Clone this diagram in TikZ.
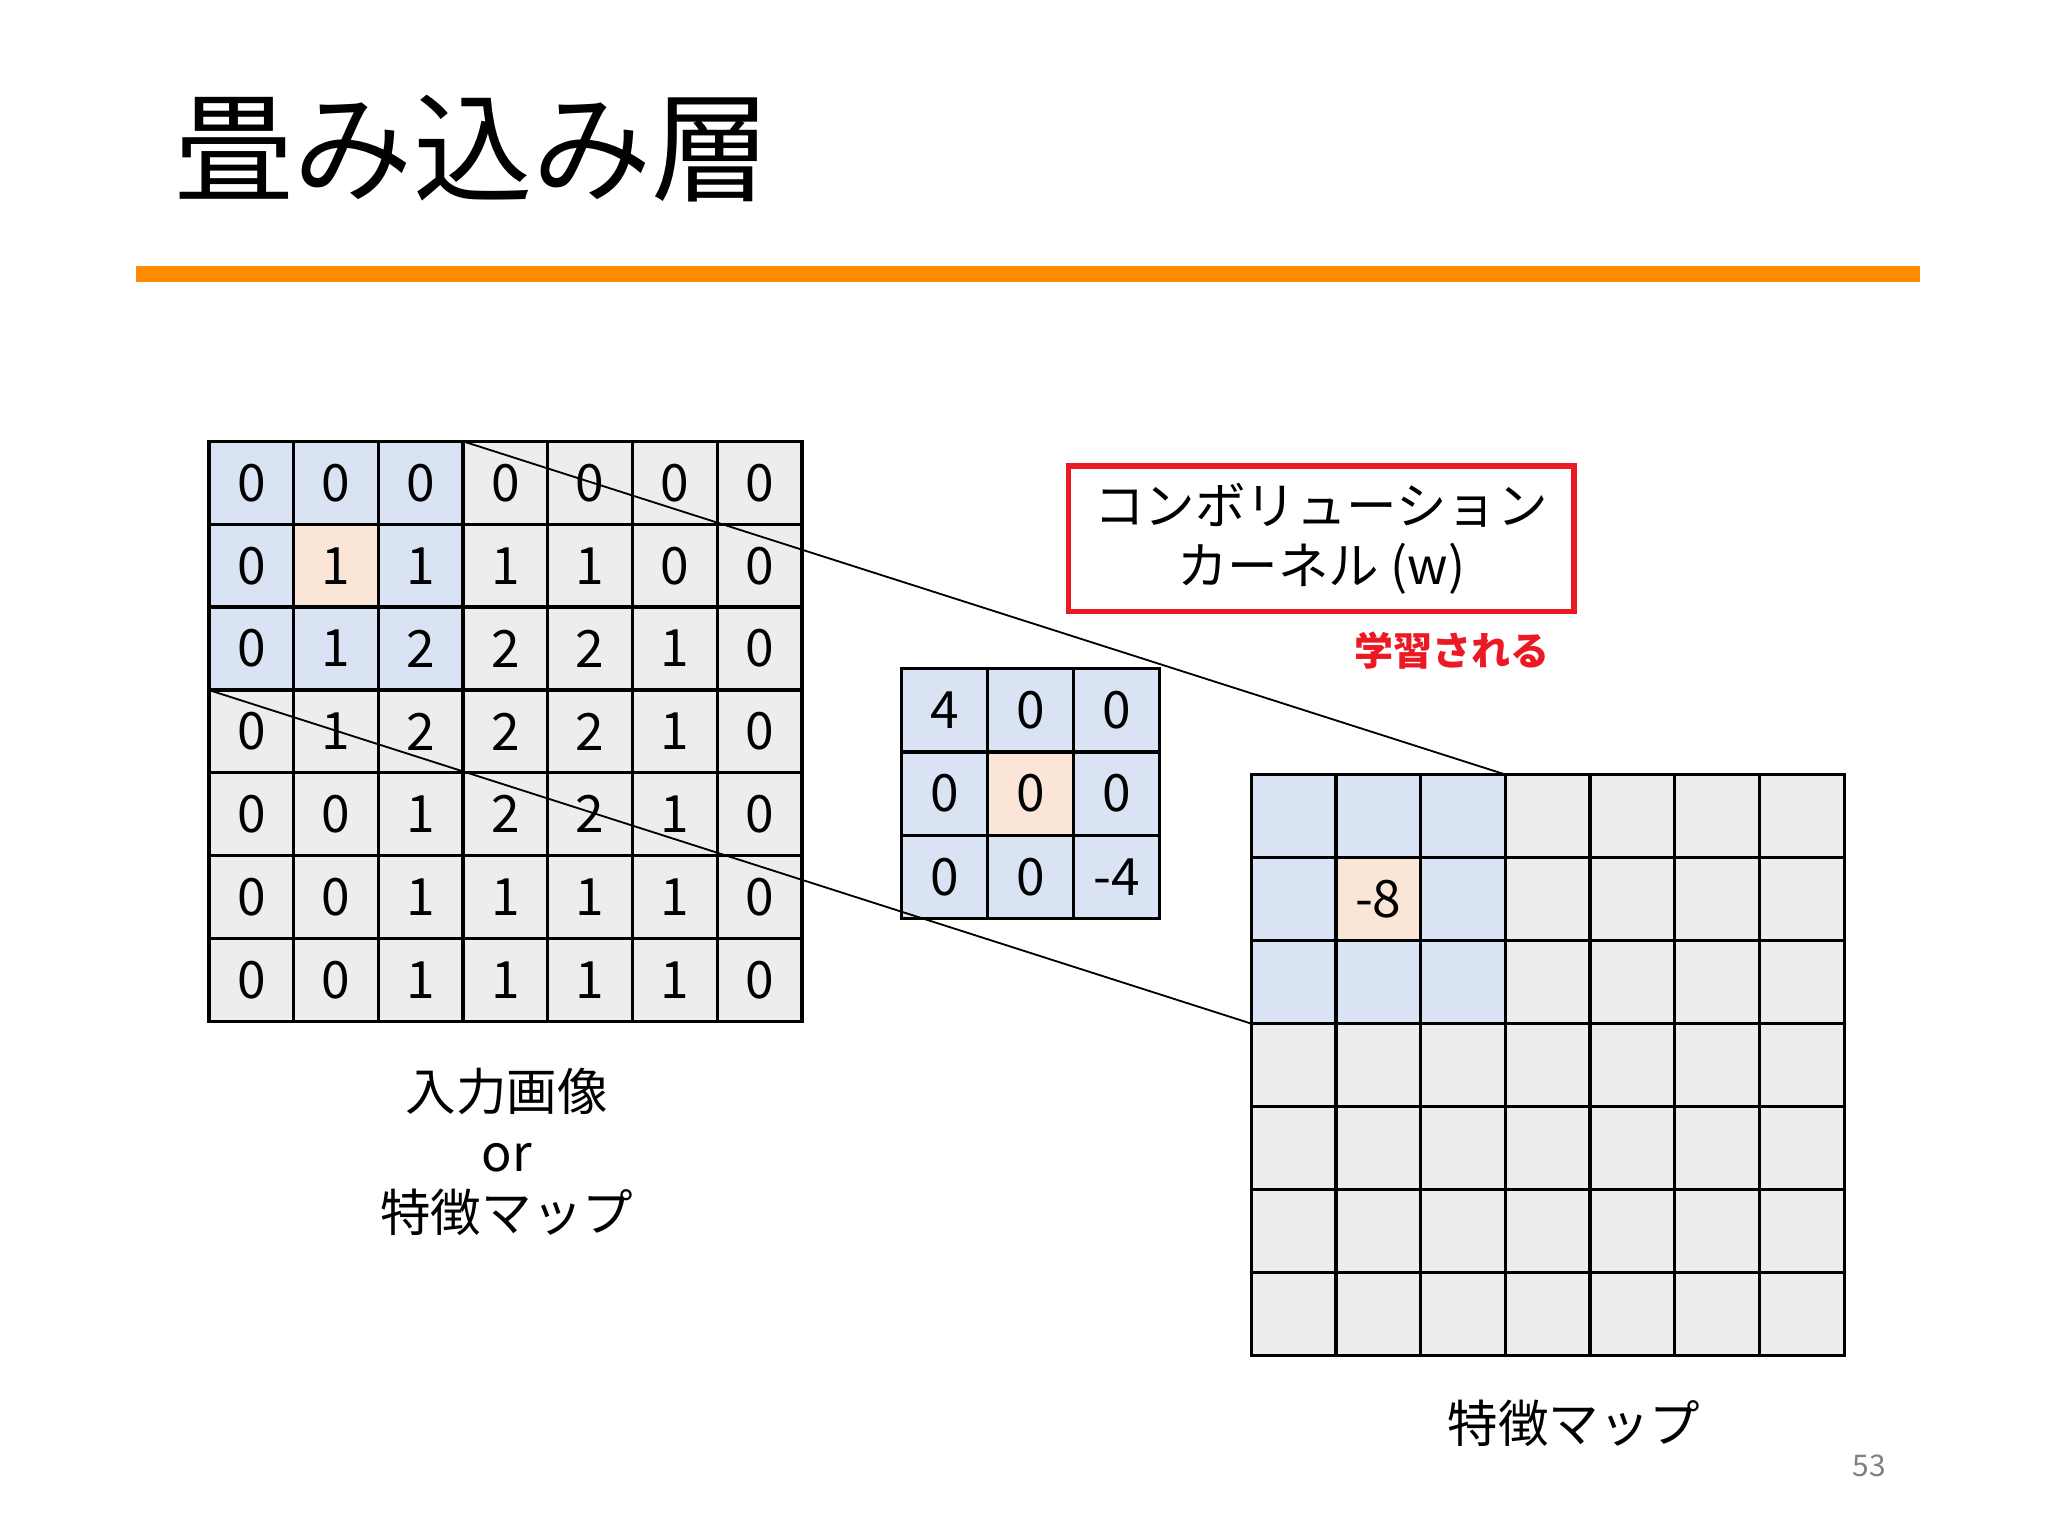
\documentclass[tikz,border=0pt]{standalone}
\usepackage{fontspec}
\setmainfont{Noto Sans CJK JP}
\definecolor{bg0}{HTML}{EDEDED}
\definecolor{bg1}{HTML}{DAE3F3}
\definecolor{bg2}{HTML}{FBE5D6}
\definecolor{barorange}{RGB}{255,140,0}
\definecolor{boxred}{RGB}{235,25,35}
\tikzset{
  cell/.style={draw, line width=0.7pt, inner sep=0pt, outer sep=0pt,
    minimum width=0.649cm, minimum height=0.635cm,
    font=\fontsize{11.2pt}{12pt}\selectfont},
  kcell/.style={cell, minimum width=0.66cm, minimum height=0.637cm},
  link/.style={line width=0.4pt},
  label/.style={font=\fontsize{11pt}{13.2pt}\selectfont, align=center}
}
\begin{document}
\begin{tikzpicture}[x=0.01cm, y=-0.01cm]
\useasboundingbox (0,0) rectangle (1568,1176);
% title and bar
\node[font=\fontsize{26pt}{30pt}\selectfont] (title) at (362,114) {畳み込み層};
\fill[barorange] (104,204) rectangle (1470,216);
% input image
\foreach \row [count=\r] in {{0,0,0,0,0,0,0},{0,1,1,1,1,0,0},{0,1,2,2,2,1,0},{0,1,2,2,2,1,0},{0,0,1,2,2,1,0},{0,0,1,1,1,1,0},{0,0,1,1,1,1,0}}{
  \foreach \v [count=\c] in \row {
    \pgfmathtruncatemacro\k{(\r<4 && \c<4) ? ((\r==2 && \c==2) ? 2 : 1) : 0}
    \node[cell, fill=bg\k] (in-\r-\c) at ({160+64.86*(\c-0.5)},{338+63.43*(\r-0.5)}) {\v};
  }
}
% kernel
\foreach \row [count=\r] in {{4,0,0},{0,0,0},{0,0,-4}}{
  \foreach \v [count=\c] in \row {
    \pgfmathtruncatemacro\k{(\r==2 && \c==2) ? 2 : 1}
    \node[kcell, fill=bg\k] (kern-\r-\c) at ({690+66*(\c-0.5)},{512+63.7*(\r-0.5)}) {\v};
  }
}
% feature map
\foreach \r in {1,...,7}{
  \foreach \c in {1,...,7}{
    \pgfmathtruncatemacro\k{(\r<4 && \c<4) ? ((\r==2 && \c==2) ? 2 : 1) : 0}
    \node[cell, fill=bg\k] (out-\r-\c) at ({958+64.86*(\c-0.5)},{593+63.57*(\r-0.5)}) {\ifnum\k=2 -8\fi};
  }
}
\draw[link] (in-1-3.north east) -- (out-1-3.north east);
\draw[link] (in-3-1.south west) -- (out-3-1.south west);
% labels
\node[draw=boxred, line width=1.2pt, minimum width=3.87cm, minimum height=1.11cm, label] (kernelname) at (1011.5,412.5) {コンボリューション\\カーネル (w)};
\node[text=boxred, font=\fontsize{8.5pt}{10pt}\selectfont\bfseries] (learned) at (1112,498) {学習される};
\node[label] (inlabel) at (388,882) {入力画像\\or\\特徴マップ};
\node[label] (outlabel) at (1205,1090) {特徴マップ};
\node[text=gray, font=\fontsize{6.5pt}{8pt}\selectfont] (pagenum) at (1431,1122) {53};
\end{tikzpicture}
\end{document}
